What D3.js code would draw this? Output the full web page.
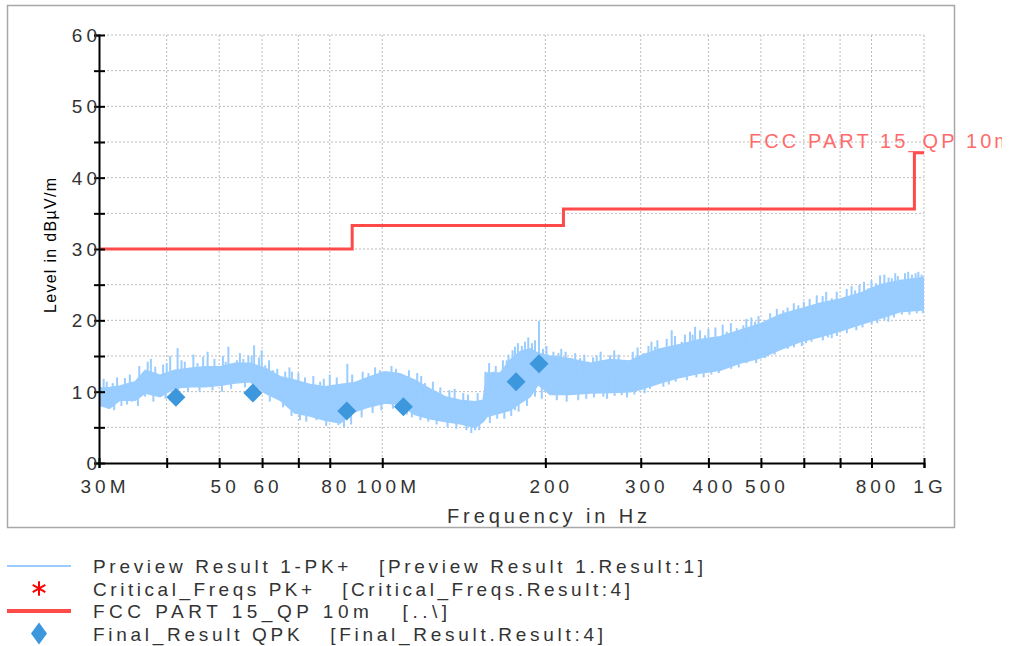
<!DOCTYPE html>
<html lang="en">
<head>
<meta charset="UTF-8">
<title>Radiated Emission Scan</title>
<script src="https://cdnjs.cloudflare.com/ajax/libs/d3/7.8.5/d3.min.js"></script>
<style>
    body { margin: 0; background: #fff; }
    svg { display: block; font-family: "Liberation Sans", Arial, sans-serif; }
    .grid line { stroke: #bcbcbc; stroke-width: 1; stroke-dasharray: 2,2; }
    .tick-label { font-size: 19px; fill: #333; letter-spacing: 4px; }
    .legend-text { font-size: 19px; fill: #333; white-space: pre; }
</style>
</head>
<body>
<div id="chart"></div>
<script>
// Preview Result 1-PK+ : band envelope (MHz / dBuV/m)
const traceFreq = [30.0, 31.4, 32.8, 35.0, 36.5, 38.9, 41.4, 44.2, 47.1, 50.2, 53.5, 57.0,
    60.8, 64.8, 69.0, 73.6, 78.4, 83.6, 89.1, 94.9, 101.2, 107.8, 114.9, 122.5, 130.6,
    139.2, 148.3, 153.5, 156.1, 165.0, 172.1, 179.6, 187.5, 193.9, 204.1, 222.1, 241.9,
    263.3, 286.7, 299.1, 325.6, 354.5, 386.2, 420.3, 457.6, 498.2, 542.4, 590.6, 642.9,
    699.8, 762.1, 829.7, 903.2, 1000];
const traceHigh = [10.5, 10.6, 10.8, 11.4, 13.0, 12.3, 13.0, 13.3, 13.5, 13.5, 14.0, 14.0,
    13.3, 12.1, 11.6, 11.0, 10.7, 11.0, 11.3, 12.1, 12.8, 12.5, 11.6, 10.4, 9.3,
    8.8, 8.6, 8.8, 12.6, 12.6, 14.4, 15.6, 16.0, 15.4, 15.0, 14.6, 14.0,
    14.5, 14.3, 15.0, 16.0, 16.6, 17.3, 17.7, 18.6, 19.5, 20.8, 21.6, 22.4,
    23.0, 23.8, 25.0, 25.6, 26.0];
const traceLow = [8.1, 7.7, 8.8, 8.8, 9.8, 9.3, 10.5, 10.7, 10.7, 10.9, 11.2, 11.4,
    9.8, 8.8, 7.0, 6.6, 6.0, 5.6, 7.2, 7.9, 8.4, 8.2, 6.8, 6.2, 5.8,
    5.5, 5.0, 5.8, 6.5, 7.0, 7.4, 8.4, 9.3, 11.0, 9.6, 9.6, 9.8,
    9.9, 10.0, 10.3, 11.2, 12.0, 12.6, 13.0, 14.0, 14.7, 15.9, 17.0, 17.7,
    18.5, 19.4, 20.3, 21.2, 21.5];
// single hairs sticking out of the band (MHz, dBuV/m)
const traceSpikes = [
    // 30 - 60 MHz
    [31.0, 11.4], [33.5, 11.9], [36.9, 14.2], [38.1, 13.5], [40.0, 14.0], [41.9, 16.1],
    [43.2, 14.2], [46.7, 14.9], [48.1, 13.6], [52.0, 16.3], [53.9, 14.4], [56.6, 15.1],
    [58.0, 16.5], [59.9, 15.8], [30.3, 8.6], [32.0, 7.4], [34.5, 8.6], [36.5, 9.3],
    [30.6, 11.8], [31.8, 11.2], [32.4, 12.0], [34.2, 12.4], [35.6, 13.6], [37.4, 14.6],
    [39.4, 13.8], [40.6, 15.0], [42.6, 14.4], [44.8, 15.2], [45.6, 14.0], [47.6, 15.6],
    [49.0, 14.6], [50.8, 15.0], [51.4, 14.2], [54.6, 15.4], [55.4, 14.6], [57.4, 15.0],
    [59.2, 14.8], [31.2, 7.6], [33.0, 8.0], [33.8, 8.2], [35.4, 8.0], [37.8, 8.6],
    [39.8, 9.0], [42.0, 9.6], [43.8, 10.0], [46.0, 10.0], [48.6, 10.2], [50.6, 10.0],
    [52.6, 10.4], [55.8, 10.6], [58.6, 10.0],
    // 60 - 155 MHz
    [60.8, 13.7], [62.9, 13.0], [68.1, 12.8], [76.8, 11.4], [86.2, 13.9], [90.3, 11.2],
    [94.3, 12.6], [101.6, 12.6], [109.4, 12.3], [119.9, 11.2],
    [70.5, 6.0], [80.7, 5.8], [83.0, 5.3], [121.6, 5.8],
    [61.8, 14.4], [64.0, 13.2], [66.2, 12.8], [67.4, 13.4], [70.0, 12.6], [72.0, 12.0],
    [74.6, 12.2], [78.0, 11.8], [80.0, 12.4], [82.4, 12.0], [88.0, 12.4], [92.0, 12.8],
    [97.0, 13.4], [99.0, 13.0], [104.0, 13.6], [106.0, 13.2], [112.0, 13.0], [116.0, 12.6],
    [118.0, 12.2], [124.0, 11.4], [128.0, 10.6], [133.0, 10.2], [136.0, 10.4], [144.0, 9.6],
    [150.0, 9.8], [62.0, 8.6], [65.6, 7.8], [68.0, 6.6], [72.4, 5.8], [75.6, 6.0],
    [78.8, 5.2], [85.0, 5.0], [87.6, 5.4], [91.6, 6.4], [96.0, 7.0], [99.6, 7.4],
    [104.6, 7.6], [111.0, 6.8], [113.4, 6.4], [117.6, 6.0], [126.0, 5.4], [132.0, 5.0],
    [137.0, 4.8], [143.0, 4.6], [146.0, 4.2], [151.0, 4.6],
    // 155 - 250 MHz
    [125.1, 9.8], [141.1, 9.8], [155.0, 12.8], [160.3, 12.8], [169.7, 14.4], [175.8, 16.3],
    [183.4, 17.0], [191.4, 17.2], [194.7, 19.9], [207.0, 15.6], [211.4, 15.4], [223.7, 14.7],
    [231.8, 14.7], [240.1, 14.2], [148.3, 4.6], [175.8, 7.4], [191.4, 9.3],
    [157.5, 14.0], [162.0, 13.6], [167.0, 14.4], [171.0, 15.2], [174.0, 15.8], [178.0, 16.8],
    [181.0, 16.4], [186.0, 17.6], [189.0, 16.8], [198.0, 16.0], [201.0, 16.4], [214.0, 16.0],
    [218.0, 15.6], [227.0, 15.4], [236.0, 15.2], [245.0, 14.8],
    [158.0, 5.6], [163.0, 6.2], [168.0, 6.2], [173.0, 6.6], [178.5, 7.2], [185.0, 8.0],
    [197.0, 9.0], [210.0, 8.8], [219.0, 8.6], [230.0, 8.8], [238.0, 9.0], [246.0, 9.2],
    // 250 - 500 MHz
    [248.8, 15.1], [263.3, 15.1], [280.6, 14.4], [303.3, 15.4], [318.9, 16.3], [342.2, 18.6],
    [357.1, 17.0], [369.9, 18.4], [378.0, 19.1], [394.4, 17.9], [432.4, 18.4], [451.2, 18.9],
    [464.0, 19.3], [487.7, 19.8], [330.3, 10.7], [255.9, 9.3], [276.7, 9.5], [299.1, 10.2],
    [253.0, 15.6], [268.0, 15.8], [273.0, 15.2], [290.0, 15.6], [296.0, 16.2], [310.0, 16.4],
    [314.0, 17.0], [322.0, 17.2], [335.0, 17.4], [347.0, 17.8], [362.0, 18.0], [374.0, 18.0],
    [386.0, 18.6], [400.0, 18.8], [412.0, 19.0], [425.0, 19.4], [440.0, 19.6], [470.0, 20.2],
    [480.0, 20.4], [495.0, 20.6],
    [260.0, 9.0], [268.5, 9.4], [283.0, 9.2], [292.0, 9.6], [305.0, 9.8], [312.0, 10.4],
    [338.0, 11.0], [348.0, 11.4], [365.0, 11.6], [380.0, 12.0], [392.0, 12.0], [405.0, 12.4],
    [418.0, 12.6], [440.5, 13.2], [455.0, 13.4], [470.5, 14.0], [490.0, 14.0],
    // 500 - 1000 MHz
    [508.9, 20.0], [550.0, 21.4], [586.2, 22.1], [633.9, 23.5], [675.6, 23.1], [709.9, 23.1],
    [746.2, 24.2], [789.7, 24.5], [829.7, 26.3], [872.0, 25.9], [922.5, 26.6], [976.3, 26.8],
    [508.9, 14.7], [605.8, 16.8], [675.6, 17.5], [735.7, 19.1], [859.5, 19.8],
    [520.0, 21.0], [535.0, 21.6], [560.0, 21.8], [575.0, 22.4], [600.0, 22.6], [615.0, 23.0],
    [650.0, 23.4], [660.0, 24.0], [690.0, 24.0], [720.0, 24.4], [735.0, 24.8], [760.0, 25.0],
    [775.0, 25.4], [800.0, 25.6], [815.0, 25.2], [845.0, 26.4], [860.0, 26.0], [885.0, 26.6],
    [895.0, 26.2], [935.0, 26.8], [950.0, 26.4], [965.0, 26.6], [990.0, 26.4],
    [515.0, 15.0], [530.0, 15.2], [560.5, 16.0], [575.5, 16.2], [595.0, 16.4], [620.0, 17.0],
    [650.5, 17.2], [665.0, 17.6], [690.5, 17.8], [720.5, 18.2], [750.0, 18.6], [770.0, 19.0],
    [800.5, 19.4], [820.0, 19.6], [845.5, 20.0], [880.0, 20.4], [910.0, 20.8], [940.0, 20.8],
    [970.0, 21.0], [995.0, 21.0]
];

// FCC PART 15_QP 10m limit, step edges (MHz) and levels (dBuV/m)
const limitEdges = [30, 88, 216, 960, 1000];
const limitLevels = [30.0, 33.3, 35.6, 43.5, 43.5];

// Final_Result QPK
const finalFreq = [41.6, 57.7, 86.0, 109.4, 176.6, 194.7];
const finalLevel = [9.2, 9.8, 7.3, 7.9, 11.4, 13.9];

// axes
const xTickFreq = [30, 40, 50, 60, 70, 80, 100, 200, 300, 400, 500, 600, 700, 800, 1000];
const xLabelFreq = [30, 50, 60, 80, 100, 200, 300, 400, 500, 800, 1000];
const xLabelText = ["30M", "50", "60", "80", "100M", "200", "300", "400", "500", "800", "1G"];
const yMajor = [0, 10, 20, 30, 40, 50, 60];
const yMinor = [0, 5, 10, 15, 20, 25, 30, 35, 40, 45, 50, 55, 60];

const legendItems = [
    {label: "Preview Result 1-PK+   [Preview Result 1.Result:1]", kind: "line", len: 610},
    {label: "Critical_Freqs PK+   [Critical_Freqs.Result:4]", kind: "star", len: 537},
    {label: "FCC PART 15_QP 10m   [..\\]", kind: "limit", len: 354},
    {label: "Final_Result QPK   [Final_Result.Result:4]", kind: "diamond", len: 510}
];

const W = 1011, H = 646;
const traceColor = "#99ccff", limitColor = "#ff4a4a", finalColor = "#3d97dc";

const svg = d3.select("#chart").append("svg")
    .attr("width", W).attr("height", H);

svg.append("defs").append("clipPath").attr("id", "page-clip")
    .append("rect").attr("x", 0).attr("y", 0).attr("width", 1002).attr("height", H);
svg.select("defs").append("clipPath").attr("id", "plot-clip")
    .append("rect").attr("x", 99).attr("y", 35).attr("width", 825).attr("height", 428);

// outer frame
svg.append("rect")
    .attr("x", 7.5).attr("y", 5.5).attr("width", 947).attr("height", 522)
    .attr("fill", "none").attr("stroke", "#a8a8a8").attr("stroke-width", 1.5);

const x = d3.scaleLog().domain([30, 1000]).range([99, 924]);
const y = d3.scaleLinear().domain([0, 60]).range([463, 35]);

// grid
const grid = svg.append("g").attr("class", "grid");
grid.selectAll(".gy").data(yMinor.slice(1)).join("line")
    .attr("x1", 99).attr("x2", 924)
    .attr("y1", d => y(d)).attr("y2", d => y(d));
grid.selectAll(".gx").data(xTickFreq.slice(1)).join("line")
    .attr("y1", 35).attr("y2", 463)
    .attr("x1", d => x(d)).attr("x2", d => x(d));

// preview trace
const plot = svg.append("g").attr("clip-path", "url(#plot-clip)");
const band = traceFreq.map((f, i) => ({f: f, hi: traceHigh[i], lo: traceLow[i]}));
plot.append("path")
    .datum(band)
    .attr("fill", traceColor)
    .attr("stroke", traceColor)
    .attr("stroke-width", 1.5)
    .attr("d", d3.area().x(d => x(d.f)).y0(d => y(d.lo)).y1(d => y(d.hi)));

const nearest = f => {
    const i = d3.bisectLeft(traceFreq, f);
    const a = band[Math.max(0, i - 1)], b = band[Math.min(band.length - 1, i)];
    return Math.abs(Math.log(f / a.f)) < Math.abs(Math.log(f / b.f)) ? a : b;
};
plot.selectAll(".spike").data(traceSpikes).join("line")
    .attr("stroke", traceColor)
    .attr("stroke-width", 2)
    .attr("x1", d => x(d[0])).attr("x2", d => x(d[0]))
    .attr("y1", d => y(d[1]))
    .attr("y2", d => { const s = nearest(d[0]); return y((s.hi + s.lo) / 2); });

// limit line
const limitPts = limitEdges.map((f, i) => [f, limitLevels[i]]);
svg.append("path")
    .datum(limitPts)
    .attr("fill", "none")
    .attr("stroke", limitColor)
    .attr("stroke-width", 3)
    .attr("d", d3.line().x(d => x(d[0])).y(d => y(d[1])).curve(d3.curveStepAfter));

svg.append("text")
    .attr("clip-path", "url(#page-clip)")
    .attr("x", 749).attr("y", 148)
    .attr("fill", "#ff6b6b")
    .style("font-size", "20px")
    .attr("textLength", 262).attr("lengthAdjust", "spacing")
    .text("FCC PART 15_QP 10m");

// final result diamonds
svg.selectAll(".final").data(finalFreq).join("path")
    .attr("fill", finalColor)
    .attr("transform", (d, i) => `translate(${x(d)},${y(finalLevel[i])})`)
    .attr("d", "M0,-9.5L9.5,0L0,9.5L-9.5,0Z");

// axes
const xAxis = svg.append("g")
    .attr("transform", "translate(0,463)")
    .call(d3.axisBottom(x).tickValues(xTickFreq).tickFormat("").tickSizeOuter(0).tickSize(5));
xAxis.select(".domain").attr("stroke", "#000").attr("stroke-width", 2);
xAxis.selectAll(".tick line").attr("y1", -5).attr("y2", 5).attr("stroke", "#000").attr("stroke-width", 2);

const yAxis = svg.append("g")
    .attr("transform", "translate(99,0)")
    .call(d3.axisLeft(y).tickValues(yMinor).tickFormat("").tickSizeOuter(0).tickSize(5));
yAxis.select(".domain").attr("stroke", "#000").attr("stroke-width", 2);
yAxis.selectAll(".tick line").attr("x1", -5).attr("x2", 6).attr("stroke", "#000").attr("stroke-width", 2);

svg.selectAll(".xl").data(xLabelFreq).join("text")
    .attr("class", "tick-label")
    .attr("x", d => x(d) + 6).attr("y", 493)
    .attr("text-anchor", "middle")
    .text((d, i) => xLabelText[i]);

svg.selectAll(".yl").data(yMajor).join("text")
    .attr("class", "tick-label")
    .attr("x", 101).attr("y", d => y(d) + 7)
    .attr("text-anchor", "end")
    .text(d => d);

svg.append("text")
    .attr("x", 447).attr("y", 523)
    .style("font-size", "20px").attr("fill", "#333")
    .attr("textLength", 200).attr("lengthAdjust", "spacing")
    .text("Frequency in Hz");

svg.append("text")
    .attr("transform", "translate(56,313) rotate(-90)")
    .style("font-size", "16px").attr("fill", "#000")
    .attr("textLength", 135).attr("lengthAdjust", "spacing")
    .text("Level in dB\u00b5V/m");

// legend
const legend = svg.selectAll(".legend").data(legendItems).join("g")
    .attr("transform", (d, i) => `translate(0,${566 + i * 22.5})`);

legend.filter(d => d.kind === "line").append("line")
    .attr("x1", 7).attr("x2", 71).attr("stroke", traceColor).attr("stroke-width", 2);
legend.filter(d => d.kind === "limit").append("line")
    .attr("x1", 7).attr("x2", 71).attr("stroke", limitColor).attr("stroke-width", 4);
legend.filter(d => d.kind === "star").append("path")
    .attr("transform", "translate(39,0)")
    .attr("d", d3.symbol(d3.symbolAsterisk, 150))
    .attr("fill", "none").attr("stroke", "#ff0000").attr("stroke-width", 2);
legend.filter(d => d.kind === "diamond").append("path")
    .attr("transform", "translate(39,0)")
    .attr("fill", finalColor)
    .attr("d", "M0,-11L8,0L0,11L-8,0Z");

legend.append("text")
    .attr("class", "legend-text")
    .attr("x", 93).attr("y", 7)
    .attr("textLength", d => d.len).attr("lengthAdjust", "spacing")
    .text(d => d.label);
</script>
</body>
</html>
